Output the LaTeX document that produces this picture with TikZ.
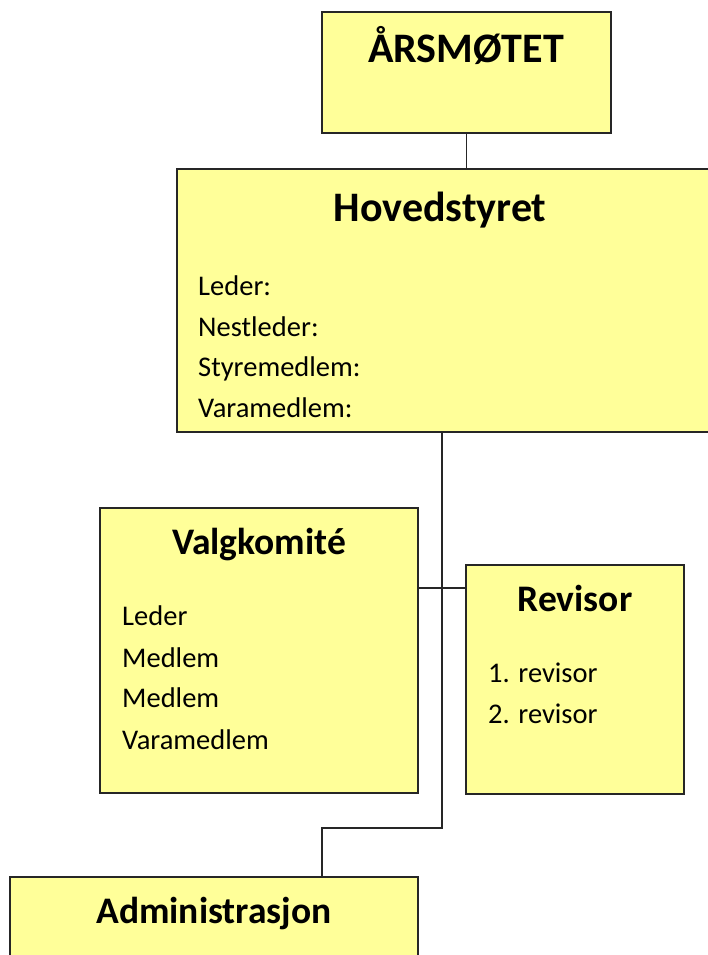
\documentclass[tikz,border=0pt]{standalone}
\usepackage{fontspec}
\setmainfont{Carlito}
\definecolor{boxyellow}{RGB}{255,255,153}
\tikzstyle{box}=[draw=black!85,fill=boxyellow,line width=1.6pt,inner sep=0pt,outer sep=0pt,anchor=north west]
\tikzstyle{bigtitle}=[font=\fontsize{42}{42}\bfseries\selectfont,inner sep=0pt,anchor=base]
\tikzstyle{boxtitle}=[font=\fontsize{37.5}{37.5}\bfseries\selectfont,inner sep=0pt,anchor=base]
\tikzstyle{member}=[font=\fontsize{28.5}{28.5}\selectfont,inner sep=0pt,anchor=base west]
\tikzstyle{link}=[draw,black!85,line width=1.6pt]

\begin{document}
\begin{tikzpicture}[x=1pt,y=-1pt]
	\useasboundingbox (0,0) rectangle (707,955);

	% Draw the boxes
	\node[box,minimum width=289pt,minimum height=121pt] (aarsmote) at (322,12) {};
	\node[box,minimum width=535pt,minimum height=263pt] (hoved) at (177,169) {};
	\node[box,minimum width=318pt,minimum height=285pt] (valg) at (100,508) {};
	\node[box,minimum width=218pt,minimum height=229pt] (revisor) at (466,565) {};
	\node[box,minimum width=408pt,minimum height=90pt] (admin) at (10,877) {};

	% Titles
	\node[bigtitle] (aarsmote-title) at (466,63) {ÅRSMØTET};
	\node[bigtitle] (hoved-title) at (440,221) {Hovedstyret};
	\node[boxtitle] (valg-title) at (259,554) {Valgkomité};
	\node[boxtitle] (revisor-title) at (575,611) {Revisor};
	\node[boxtitle] (admin-title) at (214,923) {Administrasjon};

	% Members in each box
	\foreach \pos/\name/\text in {{(198,295)/h1/Leder:}, {(198,336)/h2/Nestleder:},
	                              {(198,376)/h3/Styremedlem:}, {(198,417)/h4/Varamedlem:}}
	\node[member] (\name) at \pos {\text};

	\foreach \pos/\name/\text in {{(122,625)/v1/Leder}, {(122,667)/v2/Medlem},
	                              {(122,707)/v3/Medlem}, {(122,749)/v4/Varamedlem}}
	\node[member] (\name) at \pos {\text};

	\foreach \pos/\name/\text in {{(488,682)/r1/1. revisor}, {(488,723)/r2/2. revisor}}
	\node[member] (\name) at \pos {\text};

	% Connect the boxes
	\coordinate (split) at (442,588);
	\coordinate (knee) at (322,828);
	\path[link] (aarsmote.south) -- (aarsmote.south |- hoved.north);
	\path[link] (hoved.south -| split) -- (knee -| split) -- (knee) -- (knee |- admin.north);
	\path[link] (valg.east |- split) -- (revisor.west |- split);
\end{tikzpicture}
\end{document}
